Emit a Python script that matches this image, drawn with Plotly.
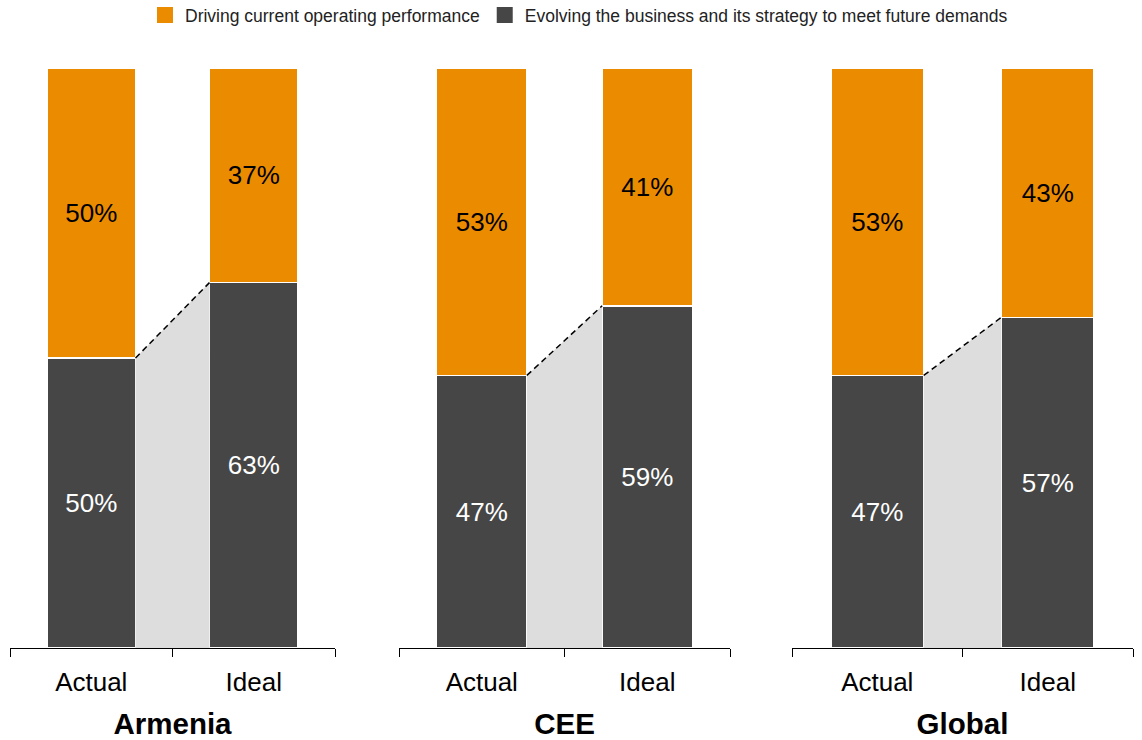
import plotly.graph_objects as go

regions = ["Armenia", "CEE", "Global"]
categories = ["Actual", "Ideal"]
driving = [[50, 37], [53, 41], [53, 43]]
evolving = [[50, 63], [47, 59], [47, 57]]
series_names = ["Driving current operating performance",
                "Evolving the business and its strategy to meet future demands"]

ORANGE = "#EB8C00"
DARK = "#464646"
LIGHT = "#DDDDDD"
FONT = "Arial, Liberation Sans, sans-serif"
BAR_W = 0.545
W, H = 1142, 740
domains = [(10, 335), (399, 730), (792, 1133)]

fig = go.Figure()
xpos = [0, 1]
for i, reg in enumerate(regions):
    xa = "x" if i == 0 else f"x{i+1}"
    ya = "y" if i == 0 else f"y{i+1}"
    ev = evolving[i]
    dr = driving[i]
    x0 = xpos[0] + BAR_W / 2
    x1 = xpos[1] - BAR_W / 2
    fig.add_trace(go.Scatter(x=[x0, x0, x1, x1, x0], y=[0, ev[0], ev[1], 0, 0],
                             fill="toself", fillcolor=LIGHT, mode="none",
                             showlegend=False, hoverinfo="skip", xaxis=xa, yaxis=ya))
    fig.add_trace(go.Scatter(x=[x0, x1], y=[ev[0], ev[1]], mode="lines",
                             line=dict(color="black", width=1.5, dash="6px,4px"),
                             showlegend=False, hoverinfo="skip", xaxis=xa, yaxis=ya))
    fig.add_trace(go.Bar(x=xpos, y=ev, width=BAR_W, name=series_names[1],
                         marker=dict(color=DARK, line=dict(color="white", width=1.5)),
                         text=[f"{v}%" for v in ev], textposition="inside",
                         insidetextanchor="middle",
                         textfont=dict(color="white", size=26, family=FONT),
                         showlegend=False, xaxis=xa, yaxis=ya))
    fig.add_trace(go.Bar(x=xpos, y=dr, width=BAR_W, name=series_names[0],
                         marker=dict(color=ORANGE, line=dict(color="white", width=1.5)),
                         text=[f"{v}%" for v in dr], textposition="inside",
                         insidetextanchor="middle",
                         textfont=dict(color="black", size=26, family=FONT),
                         showlegend=False, xaxis=xa, yaxis=ya))

# legend entries
for name, col in zip(series_names, [ORANGE, DARK]):
    fig.add_trace(go.Scatter(x=[None], y=[None], mode="markers", name=name,
                             marker=dict(symbol="square", size=16, color=col),
                             showlegend=True, hoverinfo="skip"))

layout = dict(
    width=W, height=H, barmode="stack",
    paper_bgcolor="white", plot_bgcolor="white",
    margin=dict(l=0, r=0, t=68, b=92, autoexpand=False),
    font=dict(family=FONT, color="black"),
    legend=dict(orientation="h", x=0.507, xanchor="center", y=1.122, yref="paper",
                yanchor="top", font=dict(size=17.5, color="#222"), traceorder="normal",
                itemwidth=30, itemsizing="trace", bgcolor="rgba(0,0,0,0)"),
    uniformtext=dict(mode="show", minsize=10),
)
for i, reg in enumerate(regions):
    xk = "xaxis" if i == 0 else f"xaxis{i+1}"
    yk = "yaxis" if i == 0 else f"yaxis{i+1}"
    d0, d1 = domains[i]
    layout[xk] = dict(
        domain=[d0 / W, d1 / W], range=[-0.5, 1.5], anchor="y" if i == 0 else f"y{i+1}",
        showline=True, linecolor="black", linewidth=1.3, showgrid=False, zeroline=False,
        tickvals=xpos, ticktext=categories, ticks="", ticklabelstandoff=11,
        tickfont=dict(size=26, family=FONT, color="black"),
        minor=dict(tickvals=[-0.5, 0.5, 1.5], ticks="outside", ticklen=8,
                   tickcolor="black", tickwidth=1.3, showgrid=False),
        title=dict(text=f"<b>{reg}</b>", font=dict(size=29.5, family=FONT, color="black"),
                   standoff=21),
        automargin=True,
        fixedrange=True,
    )
    layout[yk] = dict(domain=[0, 1], range=[0, 100], visible=False,
                      anchor="x" if i == 0 else f"x{i+1}", fixedrange=True)
fig.update_layout(**layout)
fig.write_html("out.html", config={"displayModeBar": False},
               post_script="document.body.style.margin='0';document.body.style.overflow='hidden';")
